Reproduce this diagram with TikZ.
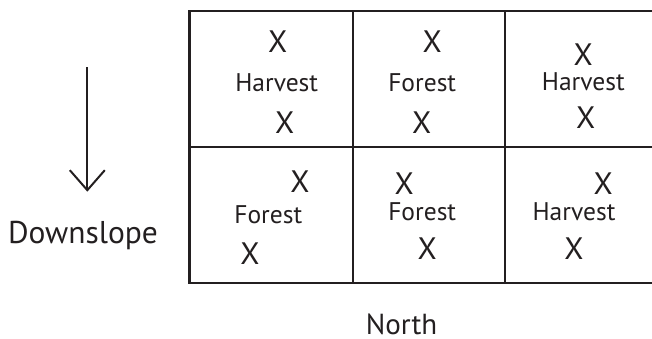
\documentclass[tikz,border=0pt]{standalone}
\usepackage{fontspec}
\setmainfont{PT Sans}
\usetikzlibrary{arrows.meta}
\definecolor{ink}{RGB}{35,31,32}

\begin{document}
\begin{tikzpicture}[
  x=1pt, y=-1pt, color=ink,
  grid/.style={line width=2.2pt, draw=ink},
  xmark/.style={anchor=base, inner sep=0pt, font=\fontsize{31pt}{31pt}\selectfont},
  landuse/.style={anchor=base, inner sep=0pt, font=\fontsize{25.5pt}{25.5pt}\selectfont},
  caption/.style={anchor=base, inner sep=0pt},
  arr/.style={-{Straight Barb[length=20pt, width=35pt]}, line width=2pt},
]
\useasboundingbox (0,0) rectangle (652,339);
\clip (0,0) rectangle (652,339);
% plots, two rows of three
\draw[grid] (189.5,11) rectangle (662,282.7);
\draw[grid] (189.5,146.7) -- (662,146.7);
\draw[grid] (352.7,11) -- (352.7,282.7);
\draw[grid] (505.3,11) -- (505.3,282.7);
% land use in each plot
\foreach \n/\x/\y/\lab in {
    u11/276.7/91.7/Harvest, u12/422.2/91.7/Forest, u13/583.3/90.7/Harvest,
    u21/268.3/223.3/Forest, u22/422.2/220/Forest, u23/574/220/Harvest} {
  \node[landuse] (\n) at (\x,\y) {\lab};
}
% sample points
\foreach \n/\x/\y in {
    x11a/277.7/52.7, x11b/284.7/133.3,
    x12a/432.3/52.7, x12b/421.7/133.3,
    x13a/583.3/66, x13b/585.7/128.3,
    x21a/300/192.3, x21b/250/264,
    x22a/404.3/194, x22b/427.3/259.3,
    x23a/603.3/194.3, x23b/574/259.3} {
  \node[xmark] (\n) at (\x,\y) {X};
}
% slope direction
\coordinate (slopetop) at (87.3,67.5);
\coordinate (slopeend) at (87.3,191.7);
\draw[arr] (slopetop) -- (slopeend);
\node[caption, font=\fontsize{31.5pt}{31.5pt}\selectfont] (downslope) at (83,243.3) {Downslope};
\node[caption, font=\fontsize{29pt}{29pt}\selectfont] (north) at (401.5,334.3) {North};
\end{tikzpicture}
\end{document}
